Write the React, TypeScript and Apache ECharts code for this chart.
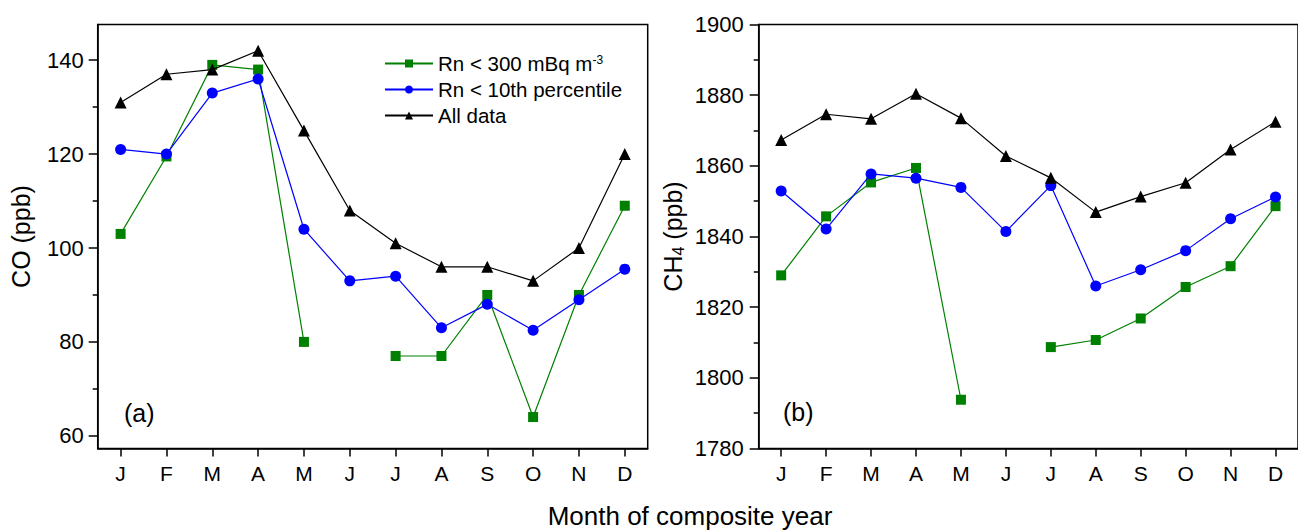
import React, { useEffect, useRef } from 'react';
import * as echarts from 'echarts';

const months = ['J', 'F', 'M', 'A', 'M', 'J', 'J', 'A', 'S', 'O', 'N', 'D'];
const seriesNames = ['Rn < 300 mBq m-3', 'Rn < 10th percentile', 'All data'];

const coRn300 = [103, 119.5, 139, 138, 80, null, 77, 77, 90, 64, 90, 109];
const coRn10 = [121, 120, 133, 136, 104, 93, 94, 83, 88, 82.5, 89, 95.5];
const coAll = [131, 137, 138, 142, 125, 108, 101, 96, 96, 93, 100, 120];

const ch4Rn300 = [1829, 1845.7, 1855.3, 1859.4, 1793.8, null, 1808.7, 1810.7, 1816.8, 1825.7, 1831.6, 1848.6];
const ch4Rn10 = [1852.9, 1842.1, 1857.7, 1856.5, 1853.9, 1841.4, 1854.4, 1826.0, 1830.6, 1836.0, 1845.0, 1851.2];
const ch4All = [1867.3, 1874.6, 1873.3, 1880.4, 1873.5, 1862.8, 1856.6, 1846.9, 1851.3, 1855.2, 1864.6, 1872.5];

const coMajorTicks = [60, 80, 100, 120, 140];
const coMinorTicks = [70, 90, 110, 130];
const ch4MajorTicks = [1780, 1800, 1820, 1840, 1860, 1880, 1900];
const ch4MinorTicks = [1790, 1810, 1830, 1850, 1870, 1890];

const FONT = 'Liberation Sans, Arial, sans-serif';
const colors = ['#008000', '#0000ff', '#000000'];
const symbols = ['rect', 'circle', 'triangle'];
const symbolSizes = [10, 11, 12];

export default function App() {
  const ref = useRef<HTMLDivElement>(null);
  useEffect(() => {
    if (!ref.current) return;
    const chart = echarts.init(ref.current, undefined, { renderer: 'svg' });
    const axisLine = { show: true, lineStyle: { color: '#000', width: 1.5 } };
    const tickLine = { color: '#000', width: 1.5 };
    const makeX = (gridIndex: number) => ({
      type: 'category',
      gridIndex,
      data: months,
      boundaryGap: true,
      axisLine,
      axisTick: { show: true, alignWithLabel: true, length: 8, lineStyle: tickLine },
      axisLabel: { color: '#000', fontSize: 21, fontFamily: FONT, margin: 14, interval: 0 },
      splitLine: { show: false },
    });
    const makeYMajor = (gridIndex: number, min: number, max: number, ticks: number[], name: any, nameGap: number, margin: number) => ({
      type: 'value',
      gridIndex,
      min,
      max,
      position: 'left',
      axisLine,
      axisTick: { show: true, length: 9, customValues: ticks, lineStyle: tickLine },
      axisLabel: {
        customValues: ticks,
        color: '#000',
        fontSize: 22,
        fontFamily: FONT,
        margin,
        formatter: (v: number) => String(v),
      },
      splitLine: { show: false },
      name,
      nameLocation: 'middle',
      nameGap,
      nameTextStyle: {
        color: '#000',
        fontSize: 25,
        fontFamily: FONT,
        rich: {
          t: { fontSize: 25, fontFamily: FONT, color: '#000' },
          sub: { fontSize: 16, fontFamily: FONT, color: '#000', padding: [12, 0, 0, 0] },
        },
      },
    });
    const makeYMinor = (gridIndex: number, min: number, max: number, ticks: number[]) => ({
      type: 'value',
      gridIndex,
      min,
      max,
      position: 'left',
      axisLine: { show: false },
      axisTick: { show: true, length: 5, customValues: ticks, lineStyle: tickLine },
      axisLabel: { show: false },
      splitLine: { show: false },
    });
    const coData = [coRn300, coRn10, coAll];
    const ch4Data = [ch4Rn300, ch4Rn10, ch4All];
    const series: any[] = [];
    [coData, ch4Data].forEach((set, gi) => {
      set.forEach((d, i) => {
        series.push({
          type: 'line',
          name: seriesNames[i],
          xAxisIndex: gi,
          yAxisIndex: gi * 2,
          data: d,
          connectNulls: false,
          symbol: symbols[i],
          symbolSize: symbolSizes[i],
          showAllSymbol: true,
          itemStyle: { color: colors[i] },
          lineStyle: { color: colors[i], width: 1.2 },
          z: 2 + i,
        });
      });
    });
    chart.setOption({
      animation: false,
      grid: [
        { left: 97.7, top: 24.5, width: 550, height: 424, show: true, borderColor: '#000', borderWidth: 1.5, backgroundColor: 'transparent' },
        { left: 758.7, top: 24.5, width: 551, height: 424, show: true, borderColor: '#000', borderWidth: 1.5, backgroundColor: 'transparent' },
      ],
      xAxis: [makeX(0), makeX(1)],
      yAxis: [
        makeYMajor(0, 57.3, 147.6, coMajorTicks, 'CO (ppb)', 64, 14),
        makeYMinor(0, 57.3, 147.6, coMinorTicks),
        makeYMajor(1, 1780, 1900, ch4MajorTicks, '{t|CH}{sub|4}{t| (ppb)}', 72, 15),
        makeYMinor(1, 1780, 1900, ch4MinorTicks),
      ],
      legend: {
        data: seriesNames,
        orient: 'vertical',
        left: 384,
        top: 53,
        itemWidth: 48,
        itemHeight: 10,
        itemGap: 5,
        padding: 0,
        textStyle: {
          color: '#000',
          fontSize: 20,
          fontFamily: FONT,
          rich: {
            t: { fontSize: 20.5, fontFamily: FONT, color: '#000', lineHeight: 20 },
            sup: { fontSize: 12, fontFamily: FONT, color: '#000', verticalAlign: 'top', lineHeight: 12 },
          },
        },
        formatter: (name: string) => (name === seriesNames[0] ? '{t|Rn < 300 mBq m}{sup|-3}' : '{t|' + name + '}'),
      },
      graphic: [
        { type: 'text', left: 124, top: 400, style: { text: '(a)', fontSize: 25, fontFamily: FONT, fill: '#000' } },
        { type: 'text', left: 783, top: 399, style: { text: '(b)', fontSize: 25, fontFamily: FONT, fill: '#000' } },
        { type: 'text', x: 690, y: 516, style: { text: 'Month of composite year', fontSize: 26, fontFamily: FONT, fill: '#000', align: 'center', verticalAlign: 'middle' } },
      ],
      series,
    });
    return () => chart.dispose();
  }, []);
  return <div ref={ref} style={{ position: 'fixed', left: 0, top: 0, width: 1298, height: 530, background: '#fff' }} />;
}
